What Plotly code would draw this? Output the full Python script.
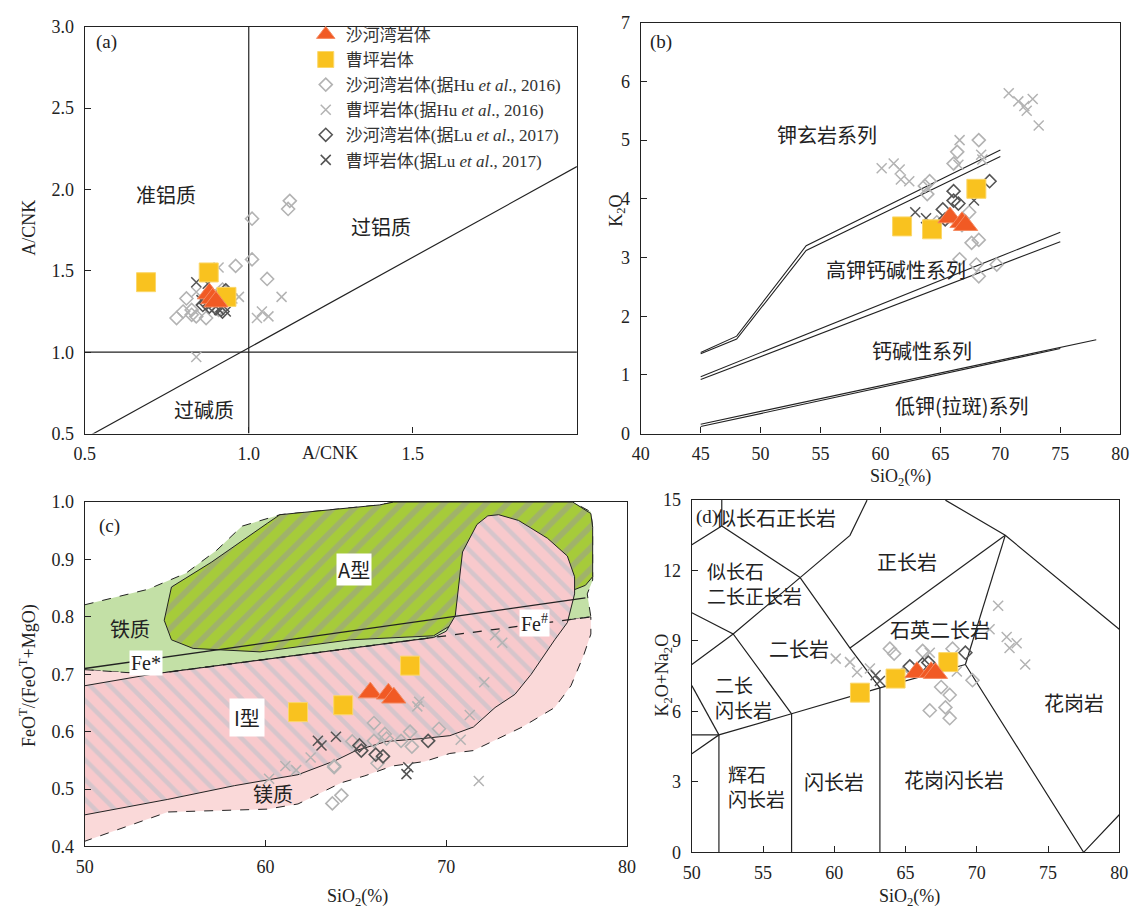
import plotly.graph_objects as go

W, H = 1141, 921
SERIF = "Liberation Serif, Noto Sans CJK SC, serif"
CJK = "Noto Sans CJK SC, Liberation Serif, sans-serif"
INK = "#222222"

TRI_C = "#f15a24"
SQ_C = "#f9c21f"
LIGHT = "#b3b3b3"
DARK = "#555555"

# ---------------- (a) A/NK - A/CNK ----------------
a_tri_x = [0.88, 0.89, 0.90]
a_tri_y = [1.36, 1.33, 1.31]
a_sq_x = [0.687, 0.878, 0.932]
a_sq_y = [1.43, 1.49, 1.34]
a_hu_shw_x = [1.125, 1.12, 1.01, 1.01, 0.96, 1.056, 0.81, 0.78, 0.826, 0.826, 0.87, 0.92, 0.908, 0.84, 0.80]
a_hu_shw_y = [1.93, 1.88, 1.82, 1.57, 1.53, 1.45, 1.33, 1.21, 1.26, 1.23, 1.21, 1.385, 1.26, 1.22, 1.25]
a_hu_cp_x = [0.908, 0.84, 0.97, 1.10, 1.04, 1.06, 1.025, 0.84, 0.95]
a_hu_cp_y = [1.52, 1.37, 1.34, 1.34, 1.25, 1.22, 1.21, 0.97, 1.33]
a_lu_shw_x = [0.87, 0.90, 0.92, 0.88, 0.93, 0.91, 0.86]
a_lu_shw_y = [1.30, 1.27, 1.25, 1.28, 1.38, 1.33, 1.29]
a_lu_cp_x = [0.84, 0.875, 0.91, 0.93, 0.856, 0.89]
a_lu_cp_y = [1.43, 1.42, 1.26, 1.25, 1.32, 1.35]
a_diag_x = [0.5, 2.0]
a_diag_y = [0.47, 2.14]

# ---------------- (b) K2O - SiO2 ----------------
b_tri_x = [65.8, 66.8, 67.1]
b_tri_y = [3.68, 3.60, 3.55]
b_sq_x = [61.8, 64.3, 68.0]
b_sq_y = [3.53, 3.48, 4.17]
b_hu_cp_x = [70.7, 71.5, 72.0, 72.2, 72.7, 73.2, 60.1, 61.1, 61.6, 61.7, 62.4, 66.6, 68.4, 68.5, 66.5]
b_hu_cp_y = [5.8, 5.66, 5.58, 5.5, 5.7, 5.25, 4.52, 4.6, 4.5, 4.33, 4.3, 5.0, 4.75, 4.67, 4.58]
b_hu_shw_x = [68.2, 66.4, 66.1, 64.1, 63.7, 63.9, 64.7, 66.8, 67.4, 67.6, 68.2, 66.6, 68.0, 68.2, 69.7]
b_hu_shw_y = [5.0, 4.8, 4.6, 4.3, 4.22, 4.08, 3.6, 3.55, 3.77, 3.25, 3.3, 2.97, 2.88, 2.68, 2.88]
b_lu_shw_x = [69.1, 66.1, 66.1, 66.5, 65.2, 65.4]
b_lu_shw_y = [4.3, 4.13, 3.97, 3.92, 3.82, 3.65]
b_lu_cp_x = [68.1, 62.9, 63.8, 67.8]
b_lu_cp_y = [4.12, 3.77, 3.67, 3.97]
# series boundaries (paired lines)
b_sho1_x = [45, 48, 53.8, 70]
b_sho1_y = [1.38, 1.66, 3.20, 4.83]
b_sho2_x = [45, 48, 53.8, 70]
b_sho2_y = [1.36, 1.61, 3.12, 4.72]
b_hk1_x = [45, 75]
b_hk1_y = [0.97, 3.43]
b_hk2_x = [45, 75]
b_hk2_y = [0.92, 3.27]
b_ca1_x = [45, 78]
b_ca1_y = [0.16, 1.60]
b_ca2_x = [45, 75]
b_ca2_y = [0.12, 1.45]

# ---------------- (c) FeOT/(FeOT+MgO) - SiO2 ----------------
c_tri_x = [65.8, 66.8, 67.1]
c_tri_y = [0.668, 0.666, 0.659]
c_sq_x = [61.8, 64.3, 68.0]
c_sq_y = [0.634, 0.646, 0.715]
c_hu_shw_x = [66.0, 66.6, 66.7, 66.0, 64.8, 63.8, 66.2, 67.5, 68.0, 68.1, 69.6, 63.7, 64.2, 63.8]
c_hu_shw_y = [0.615, 0.596, 0.588, 0.584, 0.583, 0.54, 0.545, 0.584, 0.60, 0.574, 0.605, 0.475, 0.489, 0.538]
c_lu_shw_x = [65.2, 65.3, 66.1, 66.5, 69.0]
c_lu_shw_y = [0.576, 0.567, 0.56, 0.557, 0.584]
c_hu_cp_x = [72.1, 71.3, 70.8, 71.8, 68.5, 68.4, 62.5, 61.1, 61.7, 72.7, 73.1, 60.2]
c_hu_cp_y = [0.686, 0.629, 0.586, 0.514, 0.652, 0.644, 0.555, 0.54, 0.533, 0.768, 0.755, 0.518]
c_lu_cp_x = [62.9, 63.1, 63.9, 67.8, 67.9]
c_lu_cp_y = [0.584, 0.576, 0.591, 0.526, 0.538]
# field outlines
c_ferro_x = [50, 53.5, 55.6, 57.3, 58.7, 60.8, 66.3, 67.1, 77.0, 78.0, 78.1, 78.1, 77.8, 78.0, 53.7, 50]
c_ferro_y = [0.821, 0.848, 0.876, 0.916, 0.958, 0.978, 0.995, 1.0, 1.0, 0.983, 0.956, 0.864, 0.84, 0.80, 0.70, 0.708]
c_magn_x = [50, 53.7, 78.0, 78.0, 77.6, 76.9, 76.0, 74.2, 71.5, 70.2, 68.8, 67.0, 65.5, 64.2, 61.8, 60.1, 54.6, 50]
c_magn_y = [0.708, 0.70, 0.80, 0.77, 0.733, 0.68, 0.642, 0.608, 0.567, 0.562, 0.548, 0.54, 0.523, 0.511, 0.474, 0.465, 0.46, 0.409]
c_atype_x = [54.8, 57.0, 60.1, 60.8, 66.3, 67.1, 77.0, 78.0, 78.1, 78.1, 77.7, 76.5, 70.5, 69.3, 64.7, 59.7, 56.0, 54.8, 54.4, 54.8]
c_atype_y = [0.852, 0.895, 0.963, 0.978, 0.995, 1.0, 1.0, 0.98, 0.956, 0.87, 0.855, 0.84, 0.79, 0.767, 0.76, 0.739, 0.745, 0.76, 0.794, 0.852]
c_itype_x = [50, 53.7, 69.3, 70.0, 70.5, 70.7, 70.9, 71.7, 72.3, 72.9, 74.0, 75.6, 76.7, 77.1, 77.1, 76.7, 76.0, 74.7,
             73.8, 72.7, 71.5, 70.2, 68.7, 66.7, 65.5, 65.0, 63.9, 61.8, 58.3, 54.6, 50]
c_itype_y = [0.68, 0.70, 0.764, 0.775, 0.802, 0.859, 0.913, 0.961, 0.976, 0.978, 0.968, 0.937, 0.906, 0.87, 0.84, 0.79,
             0.76, 0.70, 0.665, 0.642, 0.608, 0.593, 0.588, 0.583, 0.572, 0.567, 0.55, 0.525, 0.506, 0.482, 0.455]
c_festar_x = [50, 77.7]
c_festar_y = [0.71, 0.833]
c_fenum_x = [53.7, 78.0]
c_fenum_y = [0.70, 0.80]

# ---------------- (d) TAS ----------------
d_tri_x = [65.8, 66.8, 67.1]
d_tri_y = [7.67, 7.67, 7.63]
d_sq_x = [61.8, 64.3, 68.0]
d_sq_y = [6.8, 7.4, 8.1]
d_hu_cp_x = [60.1, 61.1, 61.6, 62.5, 71.5, 72.1, 72.3, 72.8, 73.4, 70.9, 68.6, 66.7]
d_hu_cp_y = [8.25, 8.1, 7.67, 7.83, 10.5, 9.17, 8.7, 8.9, 8.0, 9.5, 7.7, 8.5]
d_lu_cp_x = [62.9, 63.2, 64.0, 68.0]
d_lu_cp_y = [7.54, 7.3, 7.42, 8.17]
d_hu_shw_x = [63.9, 64.2, 66.2, 68.3, 67.5, 68.1, 67.8, 66.7, 68.1, 69.7, 64.8]
d_hu_shw_y = [8.67, 8.46, 8.58, 8.67, 7.04, 6.7, 6.17, 6.04, 5.71, 7.33, 7.58]
d_lu_shw_x = [65.3, 66.2, 69.2, 66.6]
d_lu_shw_y = [7.92, 8.0, 8.5, 8.08]
# field boundaries, one polyline per entry
d_fields = [
    ([52.1, 52.1], [15, 13.9]),
    ([50, 52.1, 57.6], [13.1, 13.9, 11.7]),
    ([57.6, 61.1, 62.3], [11.7, 13.5, 15]),
    ([50, 52.9, 57.6], [8.0, 9.3, 11.7]),
    ([50, 52.9, 57.0], [10.2, 9.3, 5.9]),
    ([57.6, 61.1, 63.2], [11.7, 8.7, 7.0]),
    ([61.1, 72.0], [8.7, 13.5]),
    ([67.8, 72.0, 80.0], [15, 13.5, 9.5]),
    ([72.0, 69.2], [13.5, 8.0]),
    ([50, 51.9, 57.0, 63.2, 69.2], [4.2, 5.0, 5.9, 7.0, 8.0]),
    ([69.2, 77.5, 80.0], [8.0, 0, 1.6]),
    ([50, 51.9], [5.0, 5.0]),
    ([50, 51.9], [7.1, 5.0]),
    ([51.9, 51.9], [5.0, 0]),
    ([57.0, 57.0], [5.9, 0]),
    ([63.2, 63.2], [7.0, 0]),
]

fig = go.Figure()


def line(x, y, ax, dash="solid", width=1.2, color=INK):
    fig.add_trace(go.Scatter(x=x, y=y, mode="lines", xaxis=ax[0], yaxis=ax[1],
                             line=dict(color=color, width=width, dash=dash),
                             hoverinfo="skip", showlegend=False))


STYLES = {
    "tri": dict(name="沙河湾岩体", marker=dict(symbol="triangle-up", size=21, color=TRI_C,
                                          line=dict(color="#f58a62", width=1))),
    "sq": dict(name="曹坪岩体", marker=dict(symbol="square", size=19, color=SQ_C,
                                        line=dict(color="#fbd76a", width=1))),
    "hu_shw": dict(name="沙河湾岩体(据Hu <i>et al</i>., 2016)",
                   marker=dict(symbol="diamond-open", size=10, color=LIGHT, line=dict(width=1.6))),
    "hu_cp": dict(name="曹坪岩体(据Hu <i>et al</i>., 2016)",
                  marker=dict(symbol="x-thin-open", size=10, color=LIGHT, line=dict(width=1.5, color=LIGHT))),
    "lu_shw": dict(name="沙河湾岩体(据Lu <i>et al</i>., 2017)",
                   marker=dict(symbol="diamond-open", size=10, color=DARK, line=dict(width=1.6))),
    "lu_cp": dict(name="曹坪岩体(据Lu <i>et al</i>., 2017)",
                  marker=dict(symbol="x-thin-open", size=10, color=DARK, line=dict(width=1.5, color=DARK))),
}


def points(x, y, ax, kind, legend=False, rank=1000):
    s = STYLES[kind]
    fig.add_trace(go.Scatter(x=x, y=y, mode="markers", xaxis=ax[0], yaxis=ax[1],
                             name=s["name"], marker=s["marker"], showlegend=legend,
                             legendrank=rank, hoverinfo="skip"))


A = ("x", "y")
B = ("x2", "y2")
C = ("x3", "y3")
D = ("x4", "y4")

# ---- panel (a)
line([1, 1], [0.5, 3.0], A)
line([0.5, 2.0], [1, 1], A)
line(a_diag_x, a_diag_y, A)
points(a_hu_shw_x, a_hu_shw_y, A, "hu_shw", True, 3)
points(a_hu_cp_x, a_hu_cp_y, A, "hu_cp", True, 4)
points(a_lu_shw_x, a_lu_shw_y, A, "lu_shw", True, 5)
points(a_lu_cp_x, a_lu_cp_y, A, "lu_cp", True, 6)
points(a_sq_x, a_sq_y, A, "sq", True, 2)
points(a_tri_x, a_tri_y, A, "tri", True, 1)

# ---- panel (b)
for bx, by in [(b_sho1_x, b_sho1_y), (b_sho2_x, b_sho2_y), (b_hk1_x, b_hk1_y),
               (b_hk2_x, b_hk2_y), (b_ca1_x, b_ca1_y), (b_ca2_x, b_ca2_y)]:
    line(bx, by, B, width=1.1)
points(b_hu_shw_x, b_hu_shw_y, B, "hu_shw")
points(b_hu_cp_x, b_hu_cp_y, B, "hu_cp")
points(b_lu_shw_x, b_lu_shw_y, B, "lu_shw")
points(b_lu_cp_x, b_lu_cp_y, B, "lu_cp")
points(b_sq_x, b_sq_y, B, "sq")
points(b_tri_x, b_tri_y, B, "tri")

# ---- panel (c) fields
fig.add_trace(go.Scatter(x=c_ferro_x, y=c_ferro_y, mode="lines", fill="toself", xaxis="x3", yaxis="y3",
                         fillcolor="#c3e0a6", line=dict(color=INK, width=1, dash="dash"),
                         hoverinfo="skip", showlegend=False))
fig.add_trace(go.Scatter(x=c_magn_x, y=c_magn_y, mode="lines", fill="toself", xaxis="x3", yaxis="y3",
                         fillcolor="#fad9d9", line=dict(color=INK, width=1, dash="dash"),
                         hoverinfo="skip", showlegend=False))
fig.add_trace(go.Scatter(x=c_atype_x, y=c_atype_y, mode="lines", fill="toself", xaxis="x3", yaxis="y3",
                         fillcolor="#a6cb3a",
                         fillpattern=dict(shape="/", bgcolor="#a6cb3a", fgcolor="#9a9a9a",
                                          size=15, solidity=0.38),
                         line=dict(color=INK, width=1), hoverinfo="skip", showlegend=False))
fig.add_trace(go.Scatter(x=c_itype_x, y=c_itype_y, mode="lines", fill="toself", xaxis="x3", yaxis="y3",
                         fillcolor="#f8c9cc",
                         fillpattern=dict(shape="\\", bgcolor="#f8c9cc", fgcolor="#b3c1ca",
                                          size=14, solidity=0.32),
                         line=dict(color=INK, width=1), hoverinfo="skip", showlegend=False))
line(c_festar_x, c_festar_y, C, width=1.3)
line(c_fenum_x, c_fenum_y, C, dash="dash", width=1.3)
points(c_hu_shw_x, c_hu_shw_y, C, "hu_shw")
points(c_hu_cp_x, c_hu_cp_y, C, "hu_cp")
points(c_lu_shw_x, c_lu_shw_y, C, "lu_shw")
points(c_lu_cp_x, c_lu_cp_y, C, "lu_cp")
points(c_sq_x, c_sq_y, C, "sq")
points(c_tri_x, c_tri_y, C, "tri")

# ---- panel (d)
for fx, fy in d_fields:
    line(fx, fy, D, width=1.2)
points(d_hu_shw_x, d_hu_shw_y, D, "hu_shw")
points(d_hu_cp_x, d_hu_cp_y, D, "hu_cp")
points(d_lu_shw_x, d_lu_shw_y, D, "lu_shw")
points(d_lu_cp_x, d_lu_cp_y, D, "lu_cp")
points(d_sq_x, d_sq_y, D, "sq")
points(d_tri_x, d_tri_y, D, "tri")


# ---------------- axes ----------------
def axis(domain, rng, anchor, **kw):
    d = dict(domain=domain, range=rng, anchor=anchor, showline=True, mirror=True,
             linecolor=INK, linewidth=1.3, ticks="inside", ticklen=6, tickwidth=1.2,
             tickcolor=INK, showgrid=False, zeroline=False,
             tickfont=dict(family=SERIF, size=18, color=INK))
    d.update(kw)
    return d


def px(v):
    return v / W


def py(v):
    return 1 - v / H


fig.update_layout(
    xaxis=axis([px(75), px(576)], [0.5, 2.0], "y", tickvals=[0.5, 1.0, 1.5], ticktext=["0.5", "1.0", "1.5"],
               ticklabelstandoff=4),
    yaxis=axis([py(433), py(17)], [0.5, 3.0], "x", tickvals=[0.5, 1.0, 1.5, 2.0, 2.5, 3.0],
               ticktext=["0.5", "1.0", "1.5", "2.0", "2.5", "3.0"], ticklabelstandoff=6),
    xaxis2=axis([px(641), px(1129)], [40, 80], "y2", dtick=5, ticklabelstandoff=4),
    yaxis2=axis([py(433), py(13)], [0, 7], "x2", dtick=1, ticklabelstandoff=6),
    xaxis3=axis([px(75), px(627)], [50, 80], "y3", dtick=10, ticklabelstandoff=4),
    yaxis3=axis([py(855), py(503)], [0.4, 1.0], "x3", tickvals=[0.4, 0.5, 0.6, 0.7, 0.8, 0.9, 1.0],
                ticktext=["0.4", "0.5", "0.6", "0.7", "0.8", "0.9", "1.0"], ticklabelstandoff=6),
    xaxis4=axis([px(693), px(1128)], [50, 80], "y4", dtick=5, ticklabelstandoff=4),
    yaxis4=axis([py(861), py(501)], [0, 15], "x4", dtick=3, ticklabelstandoff=6),
)

ann = []


def note(text, x, y, xref="paper", yref="paper", size=19, family=CJK, bg=None, angle=0, pad=1,
         xanchor="center", align="center"):
    a = dict(text=text, x=x, y=y, xref=xref, yref=yref, showarrow=False,
             font=dict(family=family, size=size, color=INK), textangle=angle,
             xanchor=xanchor, yanchor="middle", align=align)
    if bg:
        a.update(bgcolor=bg, borderpad=pad)
    ann.append(a)


# panel tags
note("(a)", px(97), py(33), family=SERIF, size=19)
note("(b)", px(662), py(33), family=SERIF, size=19)
note("(c)", px(100), py(527), family=SERIF, size=19)
note("(d)", px(708), py(518), family=SERIF, size=19)

# axis titles
note("A/CNK", px(325), py(453), family=SERIF, size=18)
note("A/CNK", px(18), py(223), family=SERIF, size=18, angle=-90)
note("SiO<sub>2</sub>(%)", px(905), py(478), family=SERIF, size=18)
note("K<sub>2</sub>O", px(617), py(205), family=SERIF, size=18, angle=-90)
note("SiO<sub>2</sub>(%)", px(353), py(907), family=SERIF, size=18)
note("FeO<sup>T</sup>/(FeO<sup>T</sup>+MgO)", px(18), py(680), family=SERIF, size=18, angle=-90)
note("SiO<sub>2</sub>(%)", px(915), py(907), family=SERIF, size=18)
note("K<sub>2</sub>O+Na<sub>2</sub>O", px(664), py(680), family=SERIF, size=18, angle=-90)

# panel (a) field names
note("准铝质", 0.749, 1.97, "x", "y", size=20)
note("过铝质", 1.404, 1.77, "x", "y", size=20)
note("过碱质", 0.865, 0.65, "x", "y", size=20)

# panel (b) series names
note("钾玄岩系列", 55.5, 5.1, "x2", "y2", size=20)
note("高钾钙碱性系列", 61.3, 2.8, "x2", "y2", size=20)
note("钙碱性系列", 63.5, 1.42, "x2", "y2", size=20)
note("低钾(拉斑)系列", 66.8, 0.48, "x2", "y2", size=20)

# panel (c) labels
note("A型", 64.9, 0.882, "x3", "y3", bg="white", size=20)
note("铁质", 52.5, 0.78, "x3", "y3", size=20)
note("Fe*", 53.4, 0.72, "x3", "y3", family=SERIF, bg="white", size=20)
note("Fe<sup>#</sup>", 74.9, 0.79, "x3", "y3", family=SERIF, bg="white", size=20)
note("I型", 59.0, 0.624, "x3", "y3", bg="white", pad=4, size=20)
note("镁质", 60.4, 0.492, "x3", "y3", size=20)

# panel (d) rock names
note("似长石正长岩", 55.9, 14.25, "x4", "y4", size=20)
note("似长石<br>二长正长岩", 50.95, 11.48, "x4", "y4", size=19, xanchor="left", align="left")
note("正长岩", 65.1, 12.4, "x4", "y4", size=20)
note("石英二长岩", 67.4, 9.5, "x4", "y4", size=20)
note("二长岩", 57.5, 8.7, "x4", "y4", size=20)
note("二长<br>闪长岩", 51.5, 6.62, "x4", "y4", size=19, xanchor="left", align="left")
note("辉石<br>闪长岩", 52.4, 2.82, "x4", "y4", size=19, xanchor="left", align="left")
note("闪长岩", 60.0, 3.0, "x4", "y4", size=20)
note("花岗闪长岩", 68.4, 3.1, "x4", "y4", size=20)
note("花岗岩", 76.8, 6.4, "x4", "y4", size=20)

fig.update_layout(
    annotations=ann,
    width=W, height=H, autosize=False,
    margin=dict(l=0, r=0, t=0, b=0),
    paper_bgcolor="white", plot_bgcolor="white",
    legend=dict(x=px(300), y=py(7), xanchor="left", yanchor="top",
                bgcolor="rgba(0,0,0,0)", font=dict(family=SERIF, size=17, color="#333"),
                itemsizing="trace", tracegroupgap=0, traceorder="normal"),
)

fig.write_html("out.html")
